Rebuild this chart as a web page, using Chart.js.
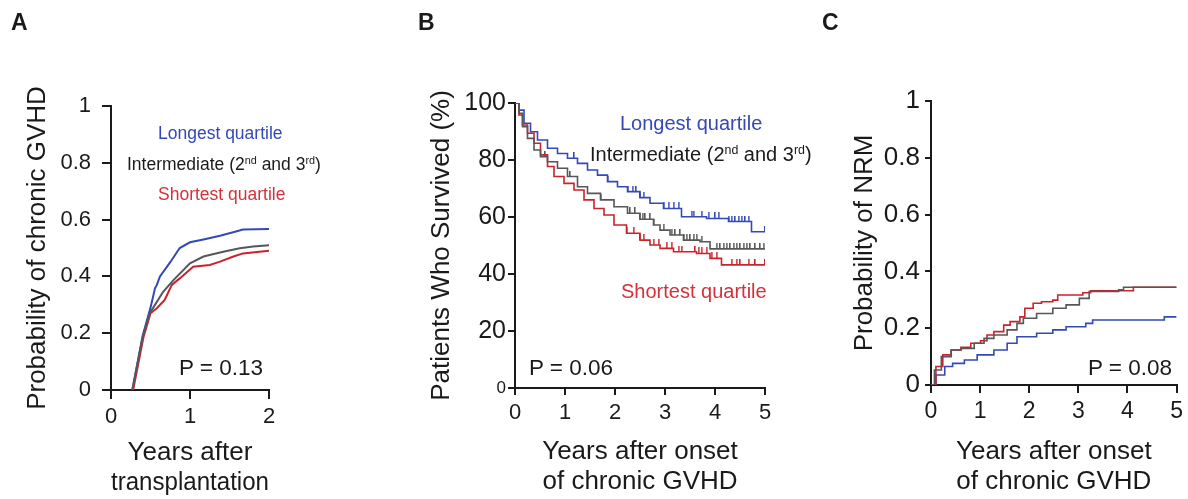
<!DOCTYPE html>
<html>
<head>
<meta charset="utf-8">
<title>Chronic GVHD by quartile</title>
<script src="https://cdn.jsdelivr.net/npm/chart.js@4"></script>
<style>
  body { margin: 0; background: #fff; width: 1188px; height: 499px; overflow: hidden; position: relative;
         font-family: 'Liberation Sans', Arial, Helvetica, sans-serif; color: #1a1a1a; }
  canvas { position: absolute; top: 0; }
  .note { position: absolute; white-space: nowrap; line-height: 1.2; }
  .note sup { font-size: .62em; vertical-align: 0; position: relative; top: -.6em; }
  .panel { font-weight: bold; font-size: 23px; }
  .blue { color: #3448b8; }
  .red { color: #d2323a; }
</style>
</head>
<body>
<canvas id="chartA" width="400" height="499" style="left:0"></canvas>
<canvas id="chartB" width="420" height="499" style="left:400px"></canvas>
<canvas id="chartC" width="368" height="499" style="left:820px"></canvas>

<div class="note panel" style="left:11px;top:9px">A</div>
<div class="note panel" style="left:418px;top:9px">B</div>
<div class="note panel" style="left:822px;top:9px">C</div>

<div class="note blue" style="left:158px;top:122.7px;font-size:17.5px">Longest quartile</div>
<div class="note" style="left:127px;top:154.1px;font-size:17.5px">Intermediate (2<sup>nd</sup> and 3<sup>rd</sup>)</div>
<div class="note red" style="left:158px;top:184.4px;font-size:17.5px">Shortest quartile</div>
<div class="note" style="left:179px;top:353.7px;font-size:22.5px">P = 0.13</div>

<div class="note blue" style="left:620px;top:111px;font-size:20px">Longest quartile</div>
<div class="note" style="left:590px;top:142px;font-size:20px">Intermediate (2<sup>nd</sup> and 3<sup>rd</sup>)</div>
<div class="note red" style="left:621px;top:279.4px;font-size:20px">Shortest quartile</div>
<div class="note" style="left:529px;top:353.7px;font-size:22.5px">P = 0.06</div>

<div class="note" style="left:1088px;top:353.7px;font-size:22.5px">P = 0.08</div>

<script>
// Panel A: probability of chronic GVHD, years after transplantation
const aLongYears  = [0.27, 0.40, 0.50, 0.557, 0.58, 0.62, 0.75, 0.87, 1.0, 1.17, 1.38, 1.57, 1.67, 2.0];
const aLongProb   = [0, 0.19, 0.29, 0.358, 0.37, 0.40, 0.45, 0.50, 0.52, 0.53, 0.543, 0.557, 0.565, 0.567];
const aMidYears   = [0.27, 0.40, 0.49, 0.535, 0.66, 0.79, 1.0, 1.17, 1.42, 1.63, 1.80, 2.0];
const aMidProb    = [0, 0.185, 0.27, 0.29, 0.346, 0.387, 0.446, 0.47, 0.487, 0.499, 0.505, 0.51];
const aShortYears = [0.28, 0.41, 0.50, 0.58, 0.68, 0.77, 0.87, 1.04, 1.25, 1.38, 1.55, 1.67, 2.0];
const aShortProb  = [0, 0.185, 0.27, 0.288, 0.317, 0.37, 0.393, 0.434, 0.44, 0.452, 0.47, 0.481, 0.49];

// Panel B: survival (%) after onset of chronic GVHD
const bLongYears  = [0, 0.08, 0.18, 0.31, 0.45, 0.65, 0.85, 1.05, 1.25, 1.45, 1.65, 1.85, 2.05, 2.25, 2.5, 2.7, 2.97, 3.33, 3.83, 4.27, 4.73, 5.0];
const bLongSurv   = [100, 97.5, 92.9, 89.9, 87.0, 84.1, 82.3, 80.6, 78.8, 76.5, 74.7, 72.4, 70.6, 68.9, 66.8, 64.8, 63.0, 60.1, 59.5, 58.4, 54.8, 54.8];
const bMidYears   = [0, 0.08, 0.15, 0.25, 0.38, 0.51, 0.65, 0.85, 1.05, 1.25, 1.45, 1.71, 1.98, 2.25, 2.5, 2.77, 2.9, 3.1, 3.37, 3.7, 3.9, 5.0];
const bMidSurv    = [100, 96.4, 91.7, 87.6, 83.5, 81.2, 79.4, 77.1, 74.2, 70.6, 68.3, 66.0, 63.6, 61.3, 59.2, 57.2, 55.4, 53.7, 51.9, 51.3, 48.8, 48.8];
const bShortYears = [0, 0.08, 0.15, 0.25, 0.38, 0.51, 0.65, 0.78, 0.98, 1.18, 1.38, 1.58, 1.78, 1.98, 2.23, 2.5, 2.7, 2.9, 3.17, 3.63, 3.9, 4.13, 5.0];
const bShortSurv  = [100, 95.8, 92.3, 89.4, 85.9, 81.8, 77.7, 74.2, 71.8, 69.5, 66.0, 63.0, 60.7, 57.2, 54.3, 51.9, 50.2, 49.0, 47.8, 47.2, 45.5, 43.2, 43.2];
// censored patients (years)
const bLongCensor  = [1.18, 1.85, 2.25, 2.35, 2.42, 2.5, 2.57, 2.97, 3.07, 3.17, 3.27, 3.53, 3.57, 3.73, 3.87, 4.0, 4.07, 4.27, 4.33, 4.4, 4.47, 4.53, 4.6, 4.67, 5.0];
const bMidCensor   = [0.6, 1.1, 1.71, 2.3, 2.4, 2.5, 2.55, 2.6, 2.7, 2.77, 2.97, 3.13, 3.2, 3.3, 3.37, 3.43, 3.5, 3.57, 3.63, 3.73, 4.03, 4.1, 4.17, 4.23, 4.3, 4.37, 4.43, 4.5, 4.57, 4.63, 4.7, 4.8, 4.9, 4.97];
const bShortCensor = [2.23, 2.37, 2.5, 2.57, 2.77, 2.87, 3.03, 3.13, 3.27, 3.33, 3.6, 3.67, 3.73, 3.83, 3.93, 4.03, 4.33, 4.43, 4.5, 4.67, 4.8, 5.0];

// Panel C: probability of non-relapse mortality
const cLongYears  = [0, 0.1, 0.28, 0.44, 0.68, 0.94, 1.28, 1.55, 1.75, 2.15, 2.48, 2.75, 3.15, 3.29, 4.75, 5.0];
const cLongProb   = [0, 0.035, 0.065, 0.076, 0.088, 0.106, 0.123, 0.147, 0.17, 0.182, 0.194, 0.205, 0.217, 0.229, 0.24, 0.24];
const cMidYears   = [0, 0.07, 0.21, 0.41, 0.61, 0.88, 1.08, 1.28, 1.55, 1.75, 1.88, 2.15, 2.48, 2.75, 3.02, 3.22, 3.82, 3.92, 5.0];
const cMidProb    = [0, 0.053, 0.1, 0.123, 0.129, 0.147, 0.164, 0.176, 0.194, 0.217, 0.235, 0.252, 0.27, 0.282, 0.305, 0.329, 0.335, 0.344, 0.344];
const cShortYears = [0, 0.1, 0.24, 0.41, 0.61, 0.81, 1.01, 1.14, 1.28, 1.48, 1.61, 1.81, 1.91, 2.08, 2.25, 2.48, 2.58, 3.09, 3.25, 4.12, 5.0];
const cShortProb  = [0, 0.065, 0.106, 0.123, 0.133, 0.147, 0.156, 0.176, 0.188, 0.211, 0.223, 0.24, 0.27, 0.288, 0.293, 0.299, 0.317, 0.325, 0.332, 0.344, 0.344];

const FONT = "'Liberation Sans', Arial, Helvetica, sans-serif";
const INK = '#1a1a1a';
const BLUE = '#3349b6';
const GREY = '#575757';
const RED = '#c9232c';

Chart.defaults.font.family = FONT;
Chart.defaults.color = INK;

function pts(xs, ys) {
    return xs.map((x, i) => ({ x: x, y: ys[i] }));
}

// value of a step curve (drop happens at each listed time)
function stepAt(xs, ys, t) {
    let v = ys[0];
    for (let i = 0; i < xs.length; i++) if (xs[i] <= t) v = ys[i];
    return v;
}

function curve(xs, ys, color, stepped, width) {
    return { data: pts(xs, ys), borderColor: color, borderWidth: width, pointRadius: 0,
             stepped: stepped, tension: 0, fill: false };
}

// small upward tick used for censored patients
function censorMark(color) {
    const c = document.createElement('canvas');
    c.width = 2; c.height = 12;
    const g = c.getContext('2d');
    g.fillStyle = color;
    g.fillRect(0, 0, 1.6, 6);
    return c;
}

function censors(times, xs, ys, color) {
    return { data: times.map(t => ({ x: t, y: stepAt(xs, ys, t) })), showLine: false,
             pointStyle: censorMark(color), pointRadius: 3 };
}

// 0 and 1 without decimals, the rest with one
function probLabel(v) {
    return (v === 0 || v === 1) ? String(v) : v.toFixed(1);
}

function axis(o) {
    const ticks = { stepSize: o.step, font: o.font, padding: o.pad, maxRotation: 0, autoSkip: false, color: INK };
    if (o.fmt) ticks.callback = o.fmt;
    return {
        type: 'linear', min: o.min, max: o.max,
        afterFit: s => { if (o.horiz) s.height = o.fit; else s.width = o.fit; },
        ticks: ticks,
        grid: { drawOnChartArea: false, drawTicks: true, tickLength: o.len, tickWidth: 2,
                tickColor: INK, color: INK, lineWidth: 2 },
        border: { display: true, color: INK, width: 2 },
        title: { display: true, text: o.title, color: INK, padding: o.titlePad,
                 font: { size: 26, lineHeight: 1.154 } }
    };
}

function makeChart(id, datasets, padding, xOpts, yOpts) {
    return new Chart(document.getElementById(id), {
        type: 'line',
        data: { datasets: datasets },
        options: {
            responsive: false,
            animation: false,
            events: [],
            layout: { padding: padding, autoPadding: false },
            plugins: { legend: { display: false }, tooltip: { enabled: false } },
            scales: { x: axis(xOpts), y: axis(yOpts) }
        }
    });
}

makeChart('chartA', [
    curve(aMidYears, aMidProb, GREY, false, 2),
    curve(aShortYears, aShortProb, RED, false, 2),
    curve(aLongYears, aLongProb, BLUE, false, 2)
], { left: 0, top: 106, right: 131, bottom: 0 },
{ horiz: true, min: 0, max: 2, step: 1, fit: 109, len: 9, pad: 5, font: { size: 22 },
  title: ['Years after', 'transplantation'], titlePad: { top: 0, bottom: 1 } },
{ min: 0, max: 1, step: 0.2, fit: 111, len: 9, pad: 11, font: { size: 22 }, fmt: probLabel,
  title: 'Probability of chronic GVHD', titlePad: { top: 23, bottom: 0 } });

makeChart('chartB', [
    curve(bMidYears, bMidSurv, GREY, true, 1.6),
    curve(bShortYears, bShortSurv, RED, true, 1.6),
    curve(bLongYears, bLongSurv, BLUE, true, 1.6),
    censors(bMidCensor, bMidYears, bMidSurv, GREY),
    censors(bShortCensor, bShortYears, bShortSurv, RED),
    censors(bLongCensor, bLongYears, bLongSurv, BLUE)
], { left: 0, top: 103, right: 55, bottom: 0 },
{ horiz: true, min: 0, max: 5, step: 1, fit: 111, len: 7, pad: 5, font: { size: 22 },
  title: ['Years after onset', 'of chronic GVHD'], titlePad: { top: 0, bottom: 2 } },
{ min: 0, max: 100, step: 20, fit: 115, len: 7, pad: 2,
  font: ctx => ({ size: ctx.tick && ctx.tick.value === 0 ? 17 : 25 }),
  title: 'Patients Who Survived (%)', titlePad: { top: 27, bottom: 0 } });

makeChart('chartC', [
    curve(cMidYears, cMidProb, GREY, true, 1.6),
    curve(cShortYears, cShortProb, RED, true, 1.6),
    curve(cLongYears, cLongProb, BLUE, true, 1.6)
], { left: 0, top: 101, right: 8, bottom: 0 },
{ horiz: true, min: 0, max: 5, step: 1, fit: 114, len: 8, pad: 5, font: { size: 23 },
  title: ['Years after onset', 'of chronic GVHD'], titlePad: { top: 0, bottom: 2 } },
{ min: 0, max: 1, step: 0.2, fit: 111, len: 6, pad: 5, font: { size: 26 }, fmt: probLabel,
  title: 'Probability of NRM', titlePad: { top: 30, bottom: 0 } });
</script>
</body>
</html>
